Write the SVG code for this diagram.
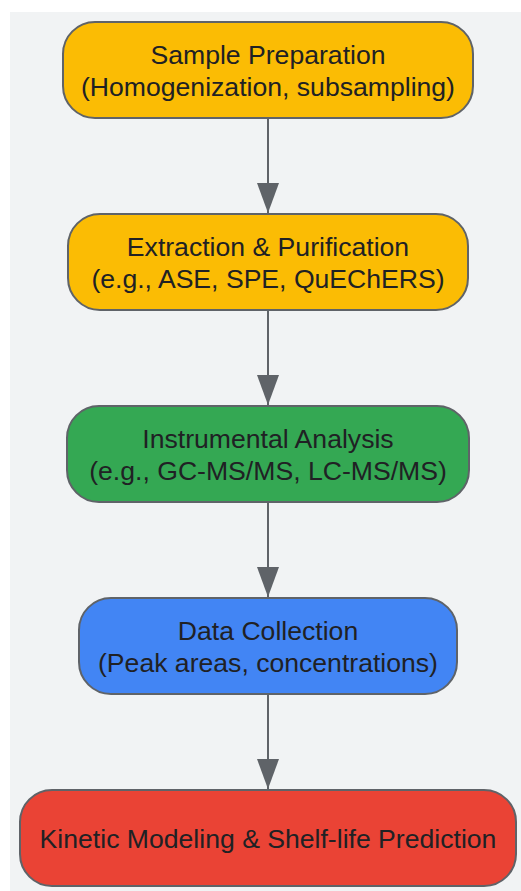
<svg xmlns="http://www.w3.org/2000/svg" width="521" height="891" viewBox="0 0 521 891">
<style>
.n{stroke:#5f6368;stroke-width:2}
.t{font-family:"Liberation Sans",Arial,sans-serif;font-size:26.6px;fill:#202124;text-anchor:middle}
.c{stroke:#5f6368;stroke-width:2;fill:none}
</style>
<defs>
<marker id="ah" markerWidth="30" markerHeight="22" refX="30" refY="11" orient="auto" markerUnits="userSpaceOnUse" viewBox="0 0 30 22">
<path d="M0,0 L30,11 L0,22 Z" fill="#5f6368"/>
</marker>
</defs>
<rect x="10" y="12" width="511" height="879" fill="#f1f3f4"/>
<g id="connectors">
<line class="c" x1="268" y1="118" x2="268" y2="213" marker-end="url(#ah)"/>
<line class="c" x1="268" y1="310" x2="268" y2="405" marker-end="url(#ah)"/>
<line class="c" x1="268" y1="502" x2="268" y2="597" marker-end="url(#ah)"/>
<line class="c" x1="268" y1="694" x2="268" y2="789" marker-end="url(#ah)"/>
</g>
<g id="n1">
<rect class="n" x="63" y="22" width="410" height="96" rx="32" fill="#fbbc04"/>
<text class="t" x="268" y="64">Sample Preparation</text>
<text class="t" x="268" y="96">(Homogenization, subsampling)</text>
</g>
<g id="n2">
<rect class="n" x="68" y="214" width="400" height="96" rx="32" fill="#fbbc04"/>
<text class="t" x="268" y="256">Extraction &amp; Purification</text>
<text class="t" x="268" y="288">(e.g., ASE, SPE, QuEChERS)</text>
</g>
<g id="n3">
<rect class="n" x="67" y="406" width="402" height="96" rx="32" fill="#34a853"/>
<text class="t" x="268" y="448">Instrumental Analysis</text>
<text class="t" x="268" y="480">(e.g., GC-MS/MS, LC-MS/MS)</text>
</g>
<g id="n4">
<rect class="n" x="79" y="598" width="378" height="96" rx="32" fill="#4285f4"/>
<text class="t" x="268" y="640">Data Collection</text>
<text class="t" x="268" y="672">(Peak areas, concentrations)</text>
</g>
<g id="n5">
<rect class="n" x="20" y="790" width="496" height="96" rx="32" fill="#ea4335"/>
<text class="t" x="268" y="848">Kinetic Modeling &amp; Shelf-life Prediction</text>
</g>
</svg>
